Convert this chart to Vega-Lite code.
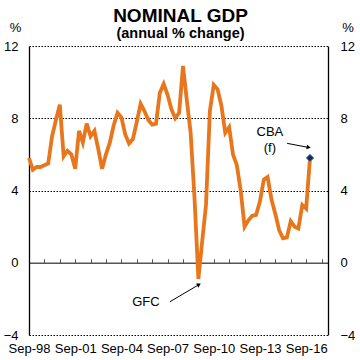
{
  "$schema": "https://vega.github.io/schema/vega-lite/v6.json",
  "autosize": "none",
  "width": 299,
  "height": 289,
  "padding": {"left": 29, "top": 46, "right": 32, "bottom": 25},
  "background": "white",
  "config": {
    "view": {"stroke": null},
    "font": "Liberation Sans",
    "axis": {"labelFont": "Liberation Sans", "titleFont": "Liberation Sans", "labelColor": "#000", "titleColor": "#000"}
  },
  "title": {
    "text": "NOMINAL GDP",
    "subtitle": "(annual % change)",
    "anchor": "middle",
    "dx": 2,
    "font": "Liberation Sans",
    "fontSize": 19,
    "fontWeight": "bold",
    "color": "#000",
    "subtitleFont": "Liberation Sans",
    "subtitleFontSize": 14.5,
    "subtitleFontWeight": "bold",
    "subtitleColor": "#000",
    "subtitlePadding": 1,
    "offset": -19
  },
  "datasets": {
    "gdp": [
      {"date": "1998-09-01", "value": 5.8},
      {"date": "1998-12-01", "value": 5.15},
      {"date": "1999-03-01", "value": 5.3},
      {"date": "1999-06-01", "value": 5.3},
      {"date": "1999-09-01", "value": 5.4},
      {"date": "1999-12-01", "value": 5.5},
      {"date": "2000-03-01", "value": 7.0},
      {"date": "2000-06-01", "value": 7.9},
      {"date": "2000-09-01", "value": 8.75},
      {"date": "2000-12-01", "value": 5.9},
      {"date": "2001-03-01", "value": 6.2},
      {"date": "2001-06-01", "value": 6.0},
      {"date": "2001-09-01", "value": 5.2},
      {"date": "2001-12-01", "value": 7.3},
      {"date": "2002-03-01", "value": 6.65},
      {"date": "2002-06-01", "value": 7.7},
      {"date": "2002-09-01", "value": 7.0},
      {"date": "2002-12-01", "value": 7.3},
      {"date": "2003-03-01", "value": 6.3},
      {"date": "2003-06-01", "value": 5.2},
      {"date": "2003-09-01", "value": 6.0},
      {"date": "2003-12-01", "value": 6.65},
      {"date": "2004-03-01", "value": 7.6},
      {"date": "2004-06-01", "value": 8.3},
      {"date": "2004-09-01", "value": 8.05},
      {"date": "2004-12-01", "value": 7.1},
      {"date": "2005-03-01", "value": 6.6},
      {"date": "2005-06-01", "value": 6.85},
      {"date": "2005-09-01", "value": 7.8},
      {"date": "2005-12-01", "value": 8.8},
      {"date": "2006-03-01", "value": 8.4},
      {"date": "2006-06-01", "value": 7.9},
      {"date": "2006-09-01", "value": 7.65},
      {"date": "2006-12-01", "value": 7.7},
      {"date": "2007-03-01", "value": 9.4},
      {"date": "2007-06-01", "value": 9.9},
      {"date": "2007-09-01", "value": 9.3},
      {"date": "2007-12-01", "value": 8.5},
      {"date": "2008-03-01", "value": 8.0},
      {"date": "2008-06-01", "value": 8.3},
      {"date": "2008-09-01", "value": 10.9},
      {"date": "2008-12-01", "value": 9.0},
      {"date": "2009-03-01", "value": 7.2},
      {"date": "2009-06-01", "value": 3.6},
      {"date": "2009-09-01", "value": -0.9},
      {"date": "2009-12-01", "value": 1.2},
      {"date": "2010-03-01", "value": 3.2},
      {"date": "2010-06-01", "value": 8.4},
      {"date": "2010-09-01", "value": 9.85},
      {"date": "2010-12-01", "value": 9.6},
      {"date": "2011-03-01", "value": 8.7},
      {"date": "2011-06-01", "value": 7.2},
      {"date": "2011-09-01", "value": 7.5},
      {"date": "2011-12-01", "value": 6.0},
      {"date": "2012-03-01", "value": 5.4},
      {"date": "2012-06-01", "value": 4.0},
      {"date": "2012-09-01", "value": 2.0},
      {"date": "2012-12-01", "value": 2.35},
      {"date": "2013-03-01", "value": 2.6},
      {"date": "2013-06-01", "value": 2.65},
      {"date": "2013-09-01", "value": 3.4},
      {"date": "2013-12-01", "value": 4.6},
      {"date": "2014-03-01", "value": 4.75},
      {"date": "2014-06-01", "value": 3.5},
      {"date": "2014-09-01", "value": 2.7},
      {"date": "2014-12-01", "value": 1.8},
      {"date": "2015-03-01", "value": 1.35},
      {"date": "2015-06-01", "value": 1.4},
      {"date": "2015-09-01", "value": 2.3},
      {"date": "2015-12-01", "value": 2.0},
      {"date": "2016-03-01", "value": 1.9},
      {"date": "2016-06-01", "value": 3.2},
      {"date": "2016-09-01", "value": 3.0},
      {"date": "2016-12-01", "value": 5.8}
    ],
    "forecast": [
      {"date": "2016-12-01", "value": 5.8}
    ],
    "labels": [
      {"date": "2006-04-07", "value": -2.17, "label": "GFC"},
      {"date": "2014-04-25", "value": 7.24, "label": "CBA"},
      {"date": "2014-04-25", "value": 6.34, "label": "(f)"}
    ],
    "arrows": [
      {"date": "2007-10-25", "value": -2.16, "date2": "2009-09-01", "value2": -1.23, "angle": 60},
      {"date": "2015-06-07", "value": 6.61, "date2": "2016-10-15", "value2": 6.39, "angle": 101}
    ]
  },
  "layer": [
    {
      "data": {"name": "gdp"},
      "mark": {"type": "line", "color": "#E8761C", "strokeWidth": 3.8, "strokeJoin": "miter", "strokeMiterLimit": 4},
      "encoding": {
        "x": {
          "field": "date", "type": "temporal",
          "scale": {"type": "utc", "domain": [{"year": 1998, "month": 9, "date": 1, "utc": true}, {"year": 2018, "month": 2, "date": 1, "utc": true}]},
          "axis": {
            "title": null,
            "orient": "bottom",
            "grid": false,
            "domain": false,
            "ticks": false,
            "labelPadding": 7,
            "labelFontSize": 13,
            "labelOverlap": false,
            "labelFlush": false,
            "values": [
              {"year": 1998, "month": 9, "date": 1, "utc": true},
              {"year": 2001, "month": 9, "date": 1, "utc": true},
              {"year": 2004, "month": 9, "date": 1, "utc": true},
              {"year": 2007, "month": 9, "date": 1, "utc": true},
              {"year": 2010, "month": 9, "date": 1, "utc": true},
              {"year": 2013, "month": 9, "date": 1, "utc": true},
              {"year": 2016, "month": 9, "date": 1, "utc": true}
            ],
            "labelExpr": "utcFormat(datum.value, '%b-%y')"
          }
        },
        "y": {
          "field": "value", "type": "quantitative",
          "scale": {"domain": [-4, 12], "nice": false, "zero": false},
          "axis": {
            "orient": "left",
            "values": [-4, 0, 4, 8, 12],
            "title": "%",
            "titleAngle": 0,
            "titleAlign": "center",
            "titleBaseline": "alphabetic",
            "titleX": -14,
            "titleY": -15,
            "titleFontSize": 13,
            "titleFontWeight": "normal",
            "labelFontSize": 13,
            "labelPadding": 11,
            "ticks": false,
            "domain": true,
            "domainColor": "#000",
            "domainWidth": 1.3,
            "grid": true,
            "gridColor": "#000",
            "gridWidth": 1,
            "gridDash": [1.5, 1.5]
          }
        }
      }
    },
    {
      "data": {"name": "forecast"},
      "mark": {"type": "point", "shape": "diamond", "filled": true, "fill": "#1B2A4A", "stroke": "#5B8FD0", "strokeWidth": 1, "size": 58, "opacity": 1},
      "encoding": {
        "x": {
          "field": "date", "type": "temporal",
          "axis": {
            "title": null,
            "orient": "bottom",
            "offset": -72.25,
            "grid": false,
            "labels": false,
            "domain": true,
            "domainColor": "#555",
            "domainWidth": 1.5,
            "ticks": true,
            "tickColor": "#555",
            "tickWidth": 1,
            "tickSize": -4,
            "values": [
              {"year": 1998, "month": 9, "date": 1, "utc": true},
              {"year": 1999, "month": 9, "date": 1, "utc": true},
              {"year": 2000, "month": 9, "date": 1, "utc": true},
              {"year": 2001, "month": 9, "date": 1, "utc": true},
              {"year": 2002, "month": 9, "date": 1, "utc": true},
              {"year": 2003, "month": 9, "date": 1, "utc": true},
              {"year": 2004, "month": 9, "date": 1, "utc": true},
              {"year": 2005, "month": 9, "date": 1, "utc": true},
              {"year": 2006, "month": 9, "date": 1, "utc": true},
              {"year": 2007, "month": 9, "date": 1, "utc": true},
              {"year": 2008, "month": 9, "date": 1, "utc": true},
              {"year": 2009, "month": 9, "date": 1, "utc": true},
              {"year": 2010, "month": 9, "date": 1, "utc": true},
              {"year": 2011, "month": 9, "date": 1, "utc": true},
              {"year": 2012, "month": 9, "date": 1, "utc": true},
              {"year": 2013, "month": 9, "date": 1, "utc": true},
              {"year": 2014, "month": 9, "date": 1, "utc": true},
              {"year": 2015, "month": 9, "date": 1, "utc": true},
              {"year": 2016, "month": 9, "date": 1, "utc": true},
              {"year": 2017, "month": 9, "date": 1, "utc": true}
            ]
          }
        },
        "y": {
          "field": "value", "type": "quantitative",
          "axis": {
            "orient": "right",
            "values": [-4, 0, 4, 8, 12],
            "title": "%",
            "titleAngle": 0,
            "titleAlign": "center",
            "titleBaseline": "alphabetic",
            "titleX": 19.5,
            "titleY": -15,
            "titleFontSize": 13,
            "titleFontWeight": "normal",
            "labelFontSize": 13,
            "labelPadding": 12,
            "ticks": false,
            "domain": true,
            "domainColor": "#000",
            "domainWidth": 1.3,
            "grid": false
          }
        }
      }
    },
    {
      "data": {"name": "labels"},
      "mark": {"type": "text", "fontSize": 13, "font": "Liberation Sans", "color": "#000", "align": "center", "baseline": "middle"},
      "encoding": {
        "x": {"field": "date", "type": "temporal", "axis": null},
        "y": {"field": "value", "type": "quantitative", "axis": null},
        "text": {"field": "label"}
      }
    },
    {
      "data": {"name": "arrows"},
      "mark": {"type": "rule", "color": "#000", "strokeWidth": 1},
      "encoding": {
        "x": {"field": "date", "type": "temporal", "axis": null},
        "y": {"field": "value", "type": "quantitative", "axis": null},
        "x2": {"field": "date2"},
        "y2": {"field": "value2"}
      }
    },
    {
      "data": {"name": "arrows"},
      "mark": {"type": "point", "shape": "triangle", "filled": true, "color": "#000", "size": 22, "opacity": 1},
      "encoding": {
        "x": {"field": "date2", "type": "temporal", "axis": null},
        "y": {"field": "value2", "type": "quantitative", "axis": null},
        "angle": {"field": "angle", "type": "quantitative", "scale": null}
      }
    }
  ],
  "resolve": {"axis": {"x": "independent", "y": "independent"}}
}
